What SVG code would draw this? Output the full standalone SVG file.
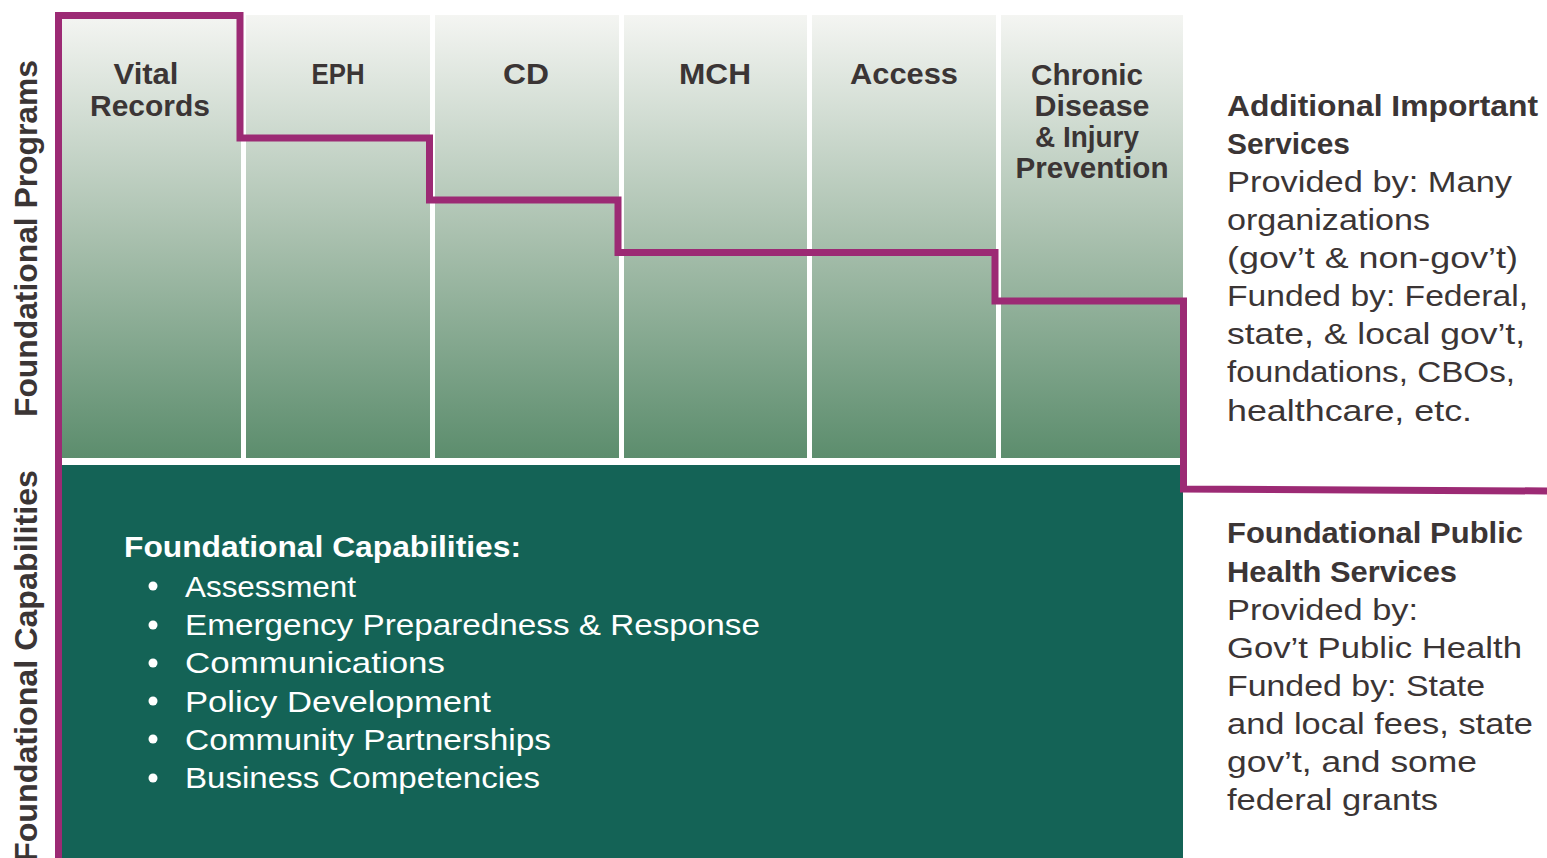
<svg xmlns="http://www.w3.org/2000/svg" width="1547" height="858" viewBox="0 0 1547 858">
<style>
.hdr{font-family:"Liberation Sans",Arial,sans-serif;font-weight:bold;font-size:29px;fill:#3b3535;text-anchor:middle}
.side{font-family:"Liberation Sans",Arial,sans-serif;font-weight:bold;font-size:32px;fill:#3b3535}
.rb{font-family:"Liberation Sans",Arial,sans-serif;font-weight:bold;font-size:30px;fill:#3b3535}
.rr{font-family:"Liberation Sans",Arial,sans-serif;font-size:30px;fill:#3b3535}
.wb{font-family:"Liberation Sans",Arial,sans-serif;font-weight:bold;font-size:30px;fill:#ffffff}
.wr{font-family:"Liberation Sans",Arial,sans-serif;font-size:29px;fill:#ffffff}
.col{fill:url(#g)}
.line{fill:none;stroke:#9c2a74;stroke-width:7;stroke-linejoin:miter}
</style>
<defs>
<linearGradient id="g" x1="0" y1="15" x2="0" y2="458" gradientUnits="userSpaceOnUse">
<stop offset="0" stop-color="#f4f5f2"/>
<stop offset="0.5" stop-color="#a9c0ae"/>
<stop offset="1" stop-color="#5c8d6d"/>
</linearGradient>
</defs>
<rect x="0" y="0" width="1547" height="858" fill="#ffffff"/>
<g id="programs">
<g id="col-vital"><rect class="col" x="62" y="15" width="179" height="443"/><text class="hdr" x="146" y="84" textLength="65" lengthAdjust="spacingAndGlyphs">Vital</text><text class="hdr" x="150" y="116" textLength="120" lengthAdjust="spacingAndGlyphs">Records</text></g>
<g id="col-eph"><rect class="col" x="246" y="15" width="184" height="443"/><text class="hdr" x="338" y="84" textLength="53" lengthAdjust="spacingAndGlyphs">EPH</text></g>
<g id="col-cd"><rect class="col" x="435" y="15" width="184" height="443"/><text class="hdr" x="526" y="84" textLength="46" lengthAdjust="spacingAndGlyphs">CD</text></g>
<g id="col-mch"><rect class="col" x="624" y="15" width="183" height="443"/><text class="hdr" x="715" y="84" textLength="72" lengthAdjust="spacingAndGlyphs">MCH</text></g>
<g id="col-access"><rect class="col" x="812" y="15" width="184" height="443"/><text class="hdr" x="904" y="84" textLength="108" lengthAdjust="spacingAndGlyphs">Access</text></g>
<g id="col-chronic"><rect class="col" x="1001" y="15" width="182" height="443"/>
<text class="hdr" x="1087" y="85" textLength="112" lengthAdjust="spacingAndGlyphs">Chronic</text>
<text class="hdr" x="1092" y="116" textLength="115" lengthAdjust="spacingAndGlyphs">Disease</text>
<text class="hdr" x="1087" y="147" textLength="104" lengthAdjust="spacingAndGlyphs">&amp; Injury</text>
<text class="hdr" x="1092" y="178" textLength="153" lengthAdjust="spacingAndGlyphs">Prevention</text></g>
</g>
<g id="capabilities">
<rect x="62" y="465" width="1121" height="393" fill="#146356"/>
<text class="wb" x="124" y="557" textLength="397" lengthAdjust="spacingAndGlyphs">Foundational Capabilities:</text>
<g fill="#ffffff">
<circle cx="153" cy="586" r="4.5"/><circle cx="153" cy="625" r="4.5"/><circle cx="153" cy="663" r="4.5"/><circle cx="153" cy="701" r="4.5"/><circle cx="153" cy="739" r="4.5"/><circle cx="153" cy="778" r="4.5"/>
</g>
<text class="wr" x="185" y="597" textLength="171" lengthAdjust="spacingAndGlyphs">Assessment</text>
<text class="wr" x="185" y="635" textLength="575" lengthAdjust="spacingAndGlyphs">Emergency Preparedness &amp; Response</text>
<text class="wr" x="185" y="673" textLength="260" lengthAdjust="spacingAndGlyphs">Communications</text>
<text class="wr" x="185" y="712" textLength="306" lengthAdjust="spacingAndGlyphs">Policy Development</text>
<text class="wr" x="185" y="750" textLength="366" lengthAdjust="spacingAndGlyphs">Community Partnerships</text>
<text class="wr" x="185" y="788" textLength="355" lengthAdjust="spacingAndGlyphs">Business Competencies</text>
</g>
<g id="side-labels">
<text class="side" transform="translate(37,417) rotate(-90)" textLength="357" lengthAdjust="spacingAndGlyphs">Foundational Programs</text>
<text class="side" transform="translate(37,470) rotate(-90)" text-anchor="end" textLength="392" lengthAdjust="spacingAndGlyphs">Foundational Capabilities</text>
</g>
<g id="additional-services">
<text class="rb" x="1227" y="116" textLength="311" lengthAdjust="spacingAndGlyphs">Additional Important</text>
<text class="rb" x="1227" y="154" textLength="123" lengthAdjust="spacingAndGlyphs">Services</text>
<text class="rr" x="1227" y="192" textLength="285" lengthAdjust="spacingAndGlyphs">Provided by: Many</text>
<text class="rr" x="1227" y="230" textLength="203" lengthAdjust="spacingAndGlyphs">organizations</text>
<text class="rr" x="1227" y="268" textLength="291" lengthAdjust="spacingAndGlyphs">(gov’t &amp; non-gov’t)</text>
<text class="rr" x="1227" y="306" textLength="301" lengthAdjust="spacingAndGlyphs">Funded by: Federal,</text>
<text class="rr" x="1227" y="344" textLength="298" lengthAdjust="spacingAndGlyphs">state, &amp; local gov’t,</text>
<text class="rr" x="1227" y="382" textLength="288" lengthAdjust="spacingAndGlyphs">foundations, CBOs,</text>
<text class="rr" x="1227" y="421" textLength="245" lengthAdjust="spacingAndGlyphs">healthcare, etc.</text>
</g>
<g id="fphs">
<text class="rb" x="1227" y="543" textLength="296" lengthAdjust="spacingAndGlyphs">Foundational Public</text>
<text class="rb" x="1227" y="582" textLength="230" lengthAdjust="spacingAndGlyphs">Health Services</text>
<text class="rr" x="1227" y="620" textLength="191" lengthAdjust="spacingAndGlyphs">Provided by:</text>
<text class="rr" x="1227" y="658" textLength="295" lengthAdjust="spacingAndGlyphs">Gov’t Public Health</text>
<text class="rr" x="1227" y="696" textLength="258" lengthAdjust="spacingAndGlyphs">Funded by: State</text>
<text class="rr" x="1227" y="734" textLength="306" lengthAdjust="spacingAndGlyphs">and local fees, state</text>
<text class="rr" x="1227" y="772" textLength="250" lengthAdjust="spacingAndGlyphs">gov’t, and some</text>
<text class="rr" x="1227" y="810" textLength="211" lengthAdjust="spacingAndGlyphs">federal grants</text>
</g>
<g id="connectors">
<path class="line" d="M58.5 858 V15.5 H240 V138 H429.5 V200 H618 V252.5 H995 V301 H1183.5 V489 L1547 491"/>
</g>
</svg>
